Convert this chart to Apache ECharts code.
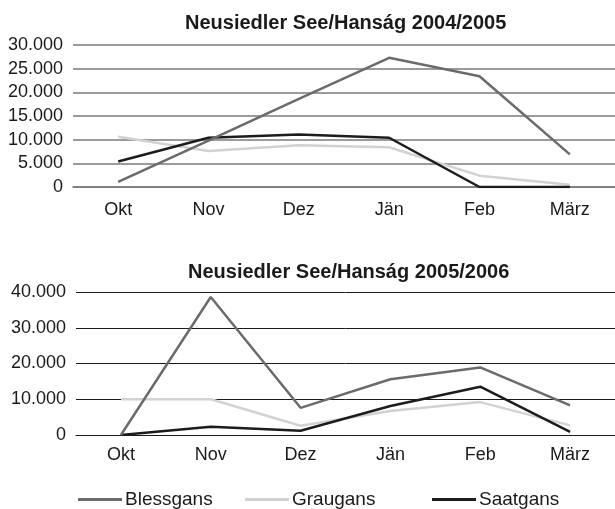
<!DOCTYPE html>
<html lang="de">
  <head>
    <meta charset="UTF-8" />
    <title>Neusiedler See/Hanság</title>
    <script src="https://cdn.jsdelivr.net/npm/echarts@6/dist/echarts.min.js"></script>
    <style>
      body {
        margin: 0;
        padding: 0;
        background: #fff;
      }

      #main {
        width: 615px;
        height: 509px;
      }
    </style>
  </head>

  <body>
    <div id="main"></div>
    <script>
      const months = ["Okt", "Nov", "Dez", "Jän", "Feb", "März"];
      const names = ["Blessgans", "Graugans", "Saatgans"];

      // 2004/2005
      const bless0405 = [1100, 9800, 18600, 27300, 23400, 6900];
      const grau0405 = [10600, 7600, 8800, 8400, 2400, 500];
      const saat0405 = [5400, 10400, 11100, 10400, 0, 0];

      // 2005/2006
      const bless0506 = [0, 38600, 7600, 15600, 18900, 8300];
      const grau0506 = [10000, 10000, 2600, 6700, 9200, 2700];
      const saat0506 = [0, 2300, 1200, 8100, 13500, 900];

      const colors = {
        Blessgans: "#6b6b6b",
        Graugans: "#d2d2d2",
        Saatgans: "#1c1c1c",
      };

      const font = "Liberation Sans, Arial, Helvetica, sans-serif";
      const fmt = (v) => String(v).replace(/\B(?=(\d{3})+(?!\d))/g, ".");

      const chart = echarts.init(document.getElementById("main"));

      const xAxisOf = (gridIndex, lineColor, lineWidth, margin) => ({
        type: "category",
        gridIndex,
        data: months,
        boundaryGap: true,
        axisLine: { lineStyle: { color: lineColor, width: lineWidth } },
        axisTick: { length: 5, lineStyle: { color: lineColor, width: lineWidth } },
        axisLabel: { color: "#1a1a1a", fontSize: 18, fontFamily: font, margin },
      });

      const yAxisOf = (gridIndex, max, interval, gridColor, gridWidth) => ({
        type: "value",
        gridIndex,
        min: 0,
        max,
        interval,
        axisLine: { show: false },
        axisTick: { show: false },
        axisLabel: {
          color: "#1a1a1a",
          fontSize: 18,
          fontFamily: font,
          margin: 10,
          formatter: fmt,
        },
        splitLine: { lineStyle: { color: gridColor, width: gridWidth } },
      });

      const line = (name, data, idx) => ({
        name,
        type: "line",
        xAxisIndex: idx,
        yAxisIndex: idx,
        data,
        symbol: "none",
        lineStyle: { color: colors[name], width: 2.5 },
        itemStyle: { color: colors[name] },
      });

      const legendOf = (name, left) => ({
        data: [name],
        left,
        top: 485,
        icon: "rect",
        itemWidth: 44,
        itemHeight: 3,
        itemGap: 4,
        textStyle: { color: "#1a1a1a", fontSize: 19, fontFamily: font, padding: [0, 0, 0, -2] },
      });

      const option = {
        animation: false,
        title: [
          {
            text: "Neusiedler See/Hanság 2004/2005",
            left: 180,
            top: 8,
            textStyle: { fontSize: 20, fontWeight: "bold", color: "#1a1a1a", fontFamily: font },
          },
          {
            text: "Neusiedler See/Hanság 2005/2006",
            left: 183,
            top: 257,
            textStyle: { fontSize: 20, fontWeight: "bold", color: "#1a1a1a", fontFamily: font },
          },
        ],
        legend: [
          legendOf("Blessgans", 73),
          legendOf("Graugans", 240),
          legendOf("Saatgans", 427),
        ],
        grid: [
          { left: 73, right: 0, top: 45, height: 142 },
          { left: 76, right: -2, top: 292, height: 143 },
        ],
        xAxis: [xAxisOf(0, "#7a7a7a", 1.5, 14), xAxisOf(1, "#1a1a1a", 1, 11)],
        yAxis: [
          yAxisOf(0, 30000, 5000, "#7a7a7a", 1.5),
          yAxisOf(1, 40000, 10000, "#1a1a1a", 1),
        ],
        series: [
          line("Graugans", grau0405, 0),
          line("Saatgans", saat0405, 0),
          line("Blessgans", bless0405, 0),
          line("Graugans", grau0506, 1),
          line("Saatgans", saat0506, 1),
          line("Blessgans", bless0506, 1),
        ],
      };

      chart.setOption(option);
    </script>
  </body>
</html>
